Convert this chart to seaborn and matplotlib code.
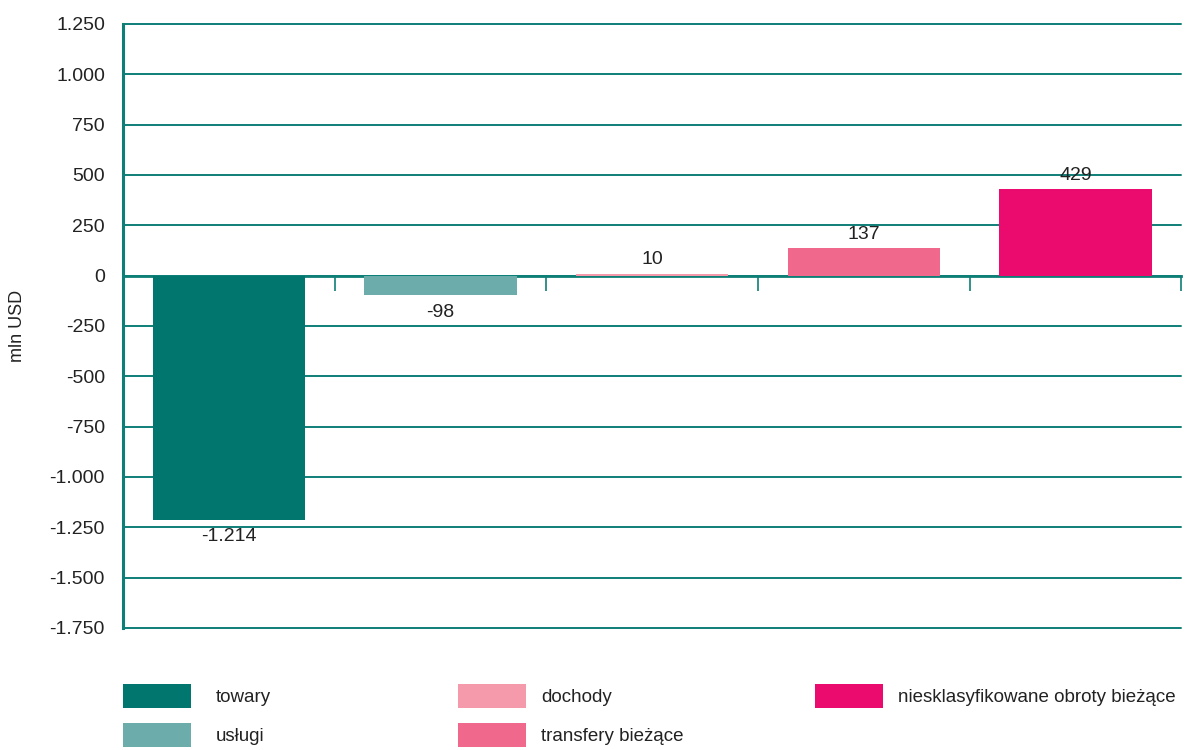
import matplotlib
matplotlib.use("Agg")
import matplotlib.pyplot as plt
import seaborn as sns
import pandas as pd
from matplotlib.patches import Patch

# dane
kategorie = ["towary", "usługi", "dochody", "transfery bieżące",
             "niesklasyfikowane obroty bieżące"]
wartosci = [-1214, -98, 10, 137, 429]
kolory = ["#00766E", "#6CACAA", "#F49AAA", "#F0688C", "#EB0B6E"]
y_ticks = [1250, 1000, 750, 500, 250, 0, -250, -500, -750, -1000, -1250, -1500, -1750]

TEAL = "#0E7F77"

sns.set_theme(style="white")
plt.rcParams["font.family"] = ["Liberation Sans", "DejaVu Sans"]


def fmt(v):
    return f"{v:,}".replace(",", ".")


df = pd.DataFrame({"kat": kategorie, "val": wartosci})

fig = plt.figure(figsize=(11.87, 7.5), dpi=100)
ax = fig.add_axes([0.1036, 0.1627, 0.8915, 0.8053])

sns.barplot(data=df, x="kat", y="val", hue="kat", palette=kolory,
            order=kategorie, hue_order=kategorie, width=0.72,
            dodge=False, legend=False, saturation=1, ax=ax, zorder=3,
            linewidth=0, edgecolor="none")

ax.set_ylim(-1750, 1250)
ax.set_xlim(-0.5, len(kategorie) - 0.5)
ax.set_yticks(y_ticks)
ax.set_yticklabels([fmt(t) for t in y_ticks], fontsize=14, color="#222222")
ax.tick_params(axis="y", length=0, pad=13)
for t in y_ticks:
    ax.axhline(t, color=TEAL, lw=1.4, zorder=1, clip_on=False)

# os kategorii na zerze z kreskami
ax.spines["bottom"].set_position(("data", 0))
ax.spines["bottom"].set_color(TEAL)
ax.spines["bottom"].set_linewidth(2)
ax.spines["bottom"].set_zorder(2)
ax.spines["left"].set_color(TEAL)
ax.spines["left"].set_linewidth(2.2)
ax.spines["top"].set_visible(False)
ax.spines["right"].set_visible(False)
ax.set_xticks([i + 0.5 for i in range(len(kategorie))])
ax.set_xticklabels([])
ax.tick_params(axis="x", direction="out", length=11, width=1.2, color=TEAL, bottom=True)
ax.set_xlabel("")
ax.set_ylabel("mln USD", fontsize=13, color="#222222", labelpad=17)

for i, v in enumerate(wartosci):
    if v < 0:
        ax.annotate(fmt(v), (i, v), xytext=(0, -6), textcoords="offset points",
                    ha="center", va="top", fontsize=14, color="#222222")
    else:
        ax.annotate(fmt(v), (i, v), xytext=(0, 4), textcoords="offset points",
                    ha="center", va="bottom", fontsize=14, color="#222222")

# legenda w trzech kolumnach
kolumny = [[0, 1], [2, 3], [4]]
x_kol = [123, 458, 815]
odstep = [1.35, 0.85, 0.85]
for idx, x0, pad in zip(kolumny, x_kol, odstep):
    handles = [Patch(facecolor=kolory[i], edgecolor="none") for i in idx]
    labels = [kategorie[i] for i in idx]
    fig.legend(handles, labels, loc="upper left", bbox_to_anchor=(x0 / 1187, 1 - 684 / 750),
               frameon=False, fontsize=13.5, handlelength=3.6, handleheight=1.6,
               labelspacing=0.8, handletextpad=pad, borderpad=0, borderaxespad=0,
               labelcolor="#222222")

fig.savefig("out.png", dpi=100)
